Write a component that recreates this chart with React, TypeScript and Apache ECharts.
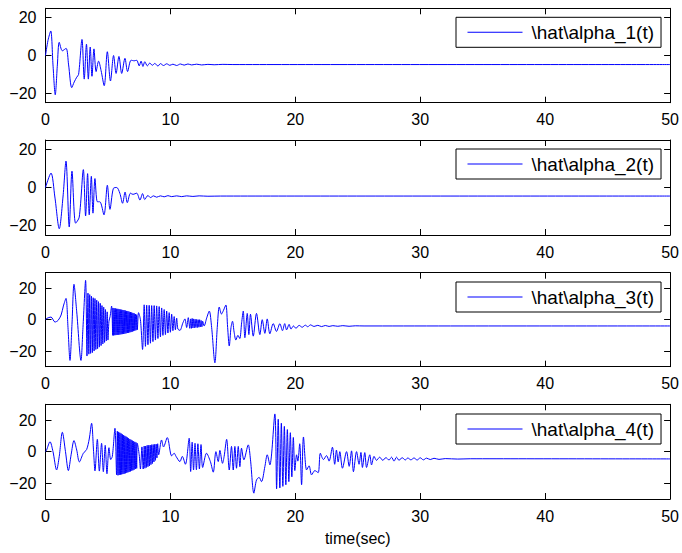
import React, { useEffect, useRef } from "react";
import * as echarts from "echarts";

const xTicks = [0, 10, 20, 30, 40, 50];
const yTicks = [-20, 0, 20];
const yLimits = [25, 25, 30, 30];
const seriesNames = [
  "\\hat\\alpha_1(t)",
  "\\hat\\alpha_2(t)",
  "\\hat\\alpha_3(t)",
  "\\hat\\alpha_4(t)",
];
const xAxisTitle = "time(sec)";

const alpha1: [number, number][] = [
  [0, 0], [0.2, 8], [0.42, 13], [0.6, -5], [0.78, -20.8], [0.95, -5], [1.1, 7], [1.35, 2.5],
  [1.65, 3.8], [1.85, -5], [2.1, -17], [2.3, -14], [2.5, -11.5], [2.65, -10], [2.92, 8.5],
  [3.1, -12.5], [3.28, 6], [3.43, -12.5], [3.58, 4.5], [3.72, -11], [3.88, 3.5], [4.05, -8.5],
  [4.25, -3], [4.45, -8], [4.7, -16], [4.95, 2], [5.2, -13.5], [5.45, 0], [5.65, -9.5],
  [5.88, -0.5], [6.1, -9.5], [6.36, -1.5], [6.57, -8.5], [6.85, -2.5], [7.1, -2.8], [7.3, -2.5],
  [7.5, -5.5], [7.65, -3], [7.8, -5.8], [7.95, -3.3], [8.15, -5.5], [8.35, -4], [8.55, -5.2],
  [8.75, -4.2], [9.0, -5.6], [9.2, -4.3], [9.45, -5.3], [9.7, -4.4], [9.95, -5.2], [10.2, -4.6],
  [10.5, -5.3], [10.8, -4.5], [11.1, -5.1], [11.4, -4.5], [11.7, -5], [12.1, -4.6], [12.5, -5],
  [13, -4.7], [13.5, -4.9], [14.2, -4.7], [15, -4.8], [50, -4.8],
];

const alpha2: [number, number][] = [
  [0, 0], [0.44, 7.6], [0.75, -5], [1.1, -21.7], [1.4, -5], [1.64, 13.9], [1.9, -20.8],
  [2.12, 8.6], [2.41, -18.8], [2.7, -15.6], [3.03, 9.4], [3.21, -15], [3.37, 7.3], [3.5, -14.4],
  [3.67, 5.9], [3.8, -13.5], [3.96, 4.7], [4.15, -7.5], [4.35, -7.5], [4.68, -14.4], [4.95, 1.2],
  [5.16, -11.5], [5.43, -0.5], [5.7, 0], [5.95, -3], [6.17, -8.3], [6.37, -2.4], [6.55, -8],
  [6.8, -3], [7.0, -3.6], [7.3, -3], [7.56, -6.6], [7.77, -3.2], [7.94, -6.3], [8.2, -4.2],
  [8.4, -5.3], [8.65, -4.4], [8.9, -5.1], [9.2, -4.4], [9.5, -4.9], [9.8, -4.3], [10.1, -4.8],
  [10.5, -4.4], [10.9, -4.8], [11.3, -4.4], [11.8, -4.7], [12.3, -4.4], [13, -4.6], [14, -4.5],
  [50, -4.5],
];

const alpha3: [number, number][] = [
  [0, 0], [0.1, 0.8], [0.44, 1.7], [0.76, -1.5], [1.0, -0.5], [1.25, 3], [1.43, 8.7], [1.64, 13.6],
  [1.8, -5], [1.96, -26], [2.12, -3], [2.28, 22.6], [2.5, 5], [2.84, -26], [3.0, -5], [3.21, 25.1],
  [3.32, -23.2],
  [3.4, 17], [3.47, -22], [3.54, 16], [3.61, -21.5], [3.68, 15], [3.75, -21], [3.82, 14],
  [3.89, -20], [3.96, 13.5], [4.03, -19], [4.1, 12.5], [4.17, -18.5], [4.24, 11.5], [4.31, -17.5],
  [4.38, 10.5], [4.45, -16.5], [4.52, 9], [4.59, -15.5], [4.66, 8], [4.73, -14.5], [4.8, 6.5],
  [4.87, -13.5], [4.94, 5], [5.0, -13],
  [5.08, -1], [5.17, 2], [5.29, 8.7], [5.38, -10],
  [5.4, 7.5], [5.45, -10], [5.5, 7.3], [5.55, -9.9], [5.6, 7.2], [5.65, -9.8], [5.7, 7], [5.75, -9.7],
  [5.8, 6.9], [5.85, -9.6], [5.9, 6.7], [5.95, -9.5], [6.0, 6.5], [6.05, -9.3], [6.1, 6.4],
  [6.15, -9.2], [6.2, 6.2], [6.25, -9], [6.3, 6], [6.35, -8.9], [6.4, 5.8], [6.45, -8.7],
  [6.5, 5.6], [6.55, -8.5], [6.6, 5.4], [6.65, -8.3], [6.7, 5.1], [6.75, -8.1], [6.8, 4.9],
  [6.85, -7.9], [6.9, 4.6], [6.95, -7.6], [7.0, 4.3], [7.05, -7.3], [7.1, 4], [7.15, -7],
  [7.2, 3.6], [7.25, -6.7], [7.3, 3.2], [7.35, -6.4],
  [7.45, 4.5], [7.6, 0], [7.77, -19],
  [7.9, 9.5], [8.0, -17], [8.1, 9.3], [8.2, -16], [8.3, 9.2], [8.4, -15], [8.5, 9], [8.6, -14],
  [8.7, 9], [8.8, -13], [8.9, 8.8], [9.0, -12], [9.1, 8.4], [9.2, -11], [9.3, 7.5], [9.4, -10],
  [9.5, 6.5], [9.6, -9.5], [9.7, 5.5], [9.8, -8.5], [9.9, 4.5], [10.0, -8], [10.1, 3.5],
  [10.2, -7], [10.3, 2], [10.4, -6.5], [10.5, 1], [10.6, -6],
  [10.76, -6.8], [11.0, -2], [11.16, 0.5], [11.3, -5], [11.43, 1.3], [11.55, -5.5],
  [11.62, 0.5], [11.68, -5.5], [11.74, 0.8], [11.8, -5.3], [11.86, 0.5], [11.92, -5.2],
  [11.98, 0.3], [12.04, -5], [12.1, 0.2], [12.16, -5], [12.22, 0], [12.28, -4.8], [12.34, 0],
  [12.4, -4.6], [12.46, -0.5], [12.52, -4.5], [12.58, -1], [12.7, -4],
  [12.9, 1], [13.11, 5.5], [13.3, -5], [13.56, -27.5], [13.75, -5], [13.91, 8.1], [14.09, 3.6],
  [14.25, 6], [14.44, 9.4], [14.58, -5], [14.71, -16.8], [14.85, -5], [14.97, -1], [15.1, -8],
  [15.24, -13], [15.4, -10], [15.55, -12], [15.7, -2], [15.83, 5.5], [15.96, -11.5], [16.15, 4],
  [16.28, -9.5], [16.41, 3.5], [16.63, -10.5], [16.89, 4], [17.16, -9.5], [17.35, 0],
  [17.56, -8.7], [17.75, 0.5], [17.96, -9], [18.23, -2.5], [18.49, -7.5], [18.76, -2.5],
  [18.97, -7], [19.15, -2.5], [19.3, -6.5], [19.5, -3], [19.65, -6], [19.85, -4], [20.05, -5.5],
  [20.3, -3.6], [20.55, -4.8], [20.8, -3.5], [21.0, -4.5], [21.2, -3.3], [21.5, -4.3],
  [21.8, -3.6], [22.1, -4.4], [22.4, -3.7], [22.7, -4.3], [23, -3.8], [23.4, -4.2], [23.8, -3.8],
  [24.3, -4.2], [24.8, -3.9], [25.5, -4], [50, -4],
];

const alpha4: [number, number][] = [
  [0, 0], [0.09, 1.1], [0.36, 6.3], [0.6, 0], [0.89, -11.6], [1.1, -3], [1.35, 12.3], [1.6, 0],
  [1.83, -12], [2.05, -2], [2.28, 7], [2.5, 1], [2.71, -6.5], [3.03, -1], [3.29, 1.3], [3.5, 8],
  [3.69, 18], [3.85, 0], [3.96, -12.2], [4.15, 7.8], [4.31, -12.3], [4.49, 5.3], [4.63, -12.7],
  [4.78, 4], [4.92, -14], [5.08, 2.5], [5.22, -5], [5.35, -3], [5.56, 14.8], [5.69, -14.7],
  [5.75, 13], [5.8, -15], [5.85, 12.5], [5.9, -14.8], [5.95, 12], [6.0, -14.6], [6.05, 11.5],
  [6.1, -14.4], [6.15, 11], [6.2, -14.2], [6.25, 10.5], [6.3, -14], [6.35, 10], [6.4, -13.7],
  [6.45, 9.5], [6.5, -13.4], [6.55, 9], [6.6, -13.1], [6.65, 8.5], [6.7, -12.8], [6.75, 8],
  [6.8, -12.5], [6.85, 7.5], [6.9, -12.1], [6.95, 7], [7.0, -11.8], [7.05, 6.6], [7.1, -11.4],
  [7.15, 6.2], [7.2, -11], [7.25, 5.8], [7.3, -10.6], [7.35, 5.3],
  [7.5, -2], [7.6, -11], [7.72, 3], [7.82, -11],
  [7.9, 3.5], [7.96, -10.5], [8.02, 3.5], [8.08, -10], [8.14, 4], [8.2, -9.5], [8.26, 4],
  [8.32, -9], [8.38, 4.2], [8.44, -8.2], [8.5, 4.4], [8.56, -7.5], [8.62, 4.5], [8.68, -6.5],
  [8.74, 4.6], [8.8, -5.5], [8.86, 4.8], [8.92, -4], [8.98, 5], [9.06, -2],
  [9.29, 7.4], [9.45, 3], [9.75, 8.9], [10.1, -2.7], [10.3, -1], [10.45, -3], [10.76, -6.3],
  [10.95, -3], [11.2, -8], [11.5, 8.5], [11.62, -12.6], [11.74, 6], [11.85, -11.6], [11.97, 5.3],
  [12.08, -11.5], [12.2, 5], [12.32, -11], [12.45, 4.5], [12.58, -10], [12.89, -1], [13.2, -6.3],
  [13.43, -13], [13.64, 0], [13.83, -6.3], [13.96, 0.8], [14.17, -7.4], [14.3, -3], [14.5, 7.8],
  [14.71, -11.6], [14.89, 3.3], [15.03, -11.6], [15.16, 3.3], [15.29, -10.5], [15.43, 3.3],
  [15.56, -9.5], [15.69, 2.2], [15.88, -5.2], [16.23, 4.3], [16.41, -5.2], [16.68, -26.3],
  [16.89, -18], [17.1, -16.3], [17.29, -19], [17.56, -9.5], [17.75, -2], [17.96, -8.4],
  [18.36, 23.9], [18.5, -23.5], [18.63, 20.5], [18.76, -23], [18.88, 18], [19.0, -22],
  [19.12, 16], [19.24, -21], [19.36, 14], [19.48, -19], [19.6, 12], [19.72, -16], [19.84, 9],
  [19.96, -12], [20.1, -2], [20.2, -6], [20.35, 5], [20.5, -21], [20.65, 9.3], [20.9, -11.6],
  [21.1, -9], [21.3, -14.7], [21.56, -12], [21.83, -13.3], [22.0, -1], [22.25, -5], [22.5, -2.5],
  [22.7, -6], [22.97, 2.8], [23.15, -8], [23.29, 1], [23.43, -6.5], [23.56, 0], [23.77, -10.5],
  [24.1, 0], [24.31, -9.3], [24.5, 0.5], [24.65, -12.7], [24.9, 0], [25.1, -8], [25.25, -0.5],
  [25.37, -10], [25.56, -0.6], [25.7, -10], [25.96, -2], [26.1, -8.4], [26.3, -3], [26.5, -5.5],
  [26.75, -3.5], [27.0, -5.5], [27.25, -3.8], [27.5, -5.3], [27.7, -3.5], [27.9, -6], [28.1, -3.5],
  [28.3, -5.5], [28.55, -3.8], [28.8, -5.3], [29.0, -4], [29.25, -5.2], [29.5, -4], [29.75, -5.3],
  [30.0, -3.9], [30.25, -5.2], [30.5, -4.1], [30.8, -5], [31.1, -4.2], [31.5, -4.9], [32, -4.4],
  [33, -4.7], [34, -4.5], [50, -4.6],
];

const seriesData = [alpha1, alpha2, alpha3, alpha4];

export default function App() {
  const ref = useRef<HTMLDivElement>(null);

  useEffect(() => {
    const chart = echarts.init(ref.current!, null, { renderer: "svg" });
    const font = "Liberation Sans";
    const gridTops = [8.3, 140, 272.7, 404.3];
    const gridHeights = [94.4, 95, 94, 94.7];
    const legendTops = [17.3, 149, 282, 414];

    const grid: any[] = [];
    const xAxis: any[] = [];
    const yAxis: any[] = [];
    const series: any[] = [];
    const legend: any[] = [];

    const tick = (values?: number[]) => {
      const t: any = {
        show: true,
        inside: true,
        length: 6,
        lineStyle: { color: "#000", width: 1 },
      };
      if (values) t.customValues = values;
      return t;
    };
    const line = () => ({
      show: true,
      onZero: false,
      lineStyle: { color: "#000", width: 1 },
    });

    for (let i = 0; i < 4; i++) {
      grid.push({
        left: 45.5,
        width: 625,
        top: gridTops[i],
        height: gridHeights[i],
        show: false,
      });
      xAxis.push({
        gridIndex: i,
        type: "value",
        min: 0,
        max: 50,
        interval: 10,
        position: "bottom",
        axisLine: line(),
        axisTick: tick(),
        splitLine: { show: false },
        axisLabel: {
          show: true,
          color: "#000",
          fontSize: 16,
          fontFamily: font,
          margin: 9,
        },
        name: i === 3 ? xAxisTitle : "",
        nameLocation: "middle",
        nameGap: 31,
        nameTextStyle: { color: "#000", fontSize: 16, fontFamily: font },
      });
      xAxis.push({
        gridIndex: i,
        type: "value",
        min: 0,
        max: 50,
        interval: 10,
        position: "top",
        axisLine: line(),
        axisTick: tick(),
        splitLine: { show: false },
        axisLabel: { show: false },
      });
      yAxis.push({
        gridIndex: i,
        type: "value",
        min: -yLimits[i],
        max: yLimits[i],
        position: "left",
        axisLine: line(),
        axisTick: tick(yTicks),
        splitLine: { show: false },
        axisLabel: {
          show: true,
          color: "#000",
          fontSize: 16,
          fontFamily: font,
          margin: 9,
          customValues: yTicks,
          formatter: (v: number) => String(v).replace("-", "\u2212"),
        },
      });
      yAxis.push({
        gridIndex: i,
        type: "value",
        min: -yLimits[i],
        max: yLimits[i],
        position: "right",
        axisLine: line(),
        axisTick: tick(yTicks),
        splitLine: { show: false },
        axisLabel: { show: false, customValues: yTicks },
      });
      series.push({
        name: seriesNames[i],
        type: "line",
        xAxisIndex: 2 * i,
        yAxisIndex: 2 * i,
        data: seriesData[i],
        symbol: "none",
        showSymbol: false,
        smooth: 0.3,
        clip: true,
        color: "#0000ff",
        lineStyle: { color: "#0000ff", width: 1 },
      });
      legend.push({
        data: [seriesNames[i]],
        left: 456,
        top: legendTops[i],
        orient: "horizontal",
        backgroundColor: "#fff",
        borderColor: "#000",
        borderWidth: 1,
        borderRadius: 0,
        padding: [5.5, 7, 5.5, 11.5],
        itemWidth: 55,
        itemHeight: 1,
        icon: "rect",
        itemGap: 0,
        selectedMode: false,
        textStyle: {
          color: "#000",
          fontSize: 19,
          fontFamily: font,
          lineHeight: 19,
          padding: [0, 0, 0, 4],
        },
      });
    }

    chart.setOption({
      animation: false,
      backgroundColor: "#fff",
      grid,
      xAxis,
      yAxis,
      series,
      legend,
    });
    return () => chart.dispose();
  }, []);

  return (
    <div
      ref={ref}
      style={{ position: "fixed", left: 0, top: 0, width: 682, height: 553 }}
    />
  );
}
